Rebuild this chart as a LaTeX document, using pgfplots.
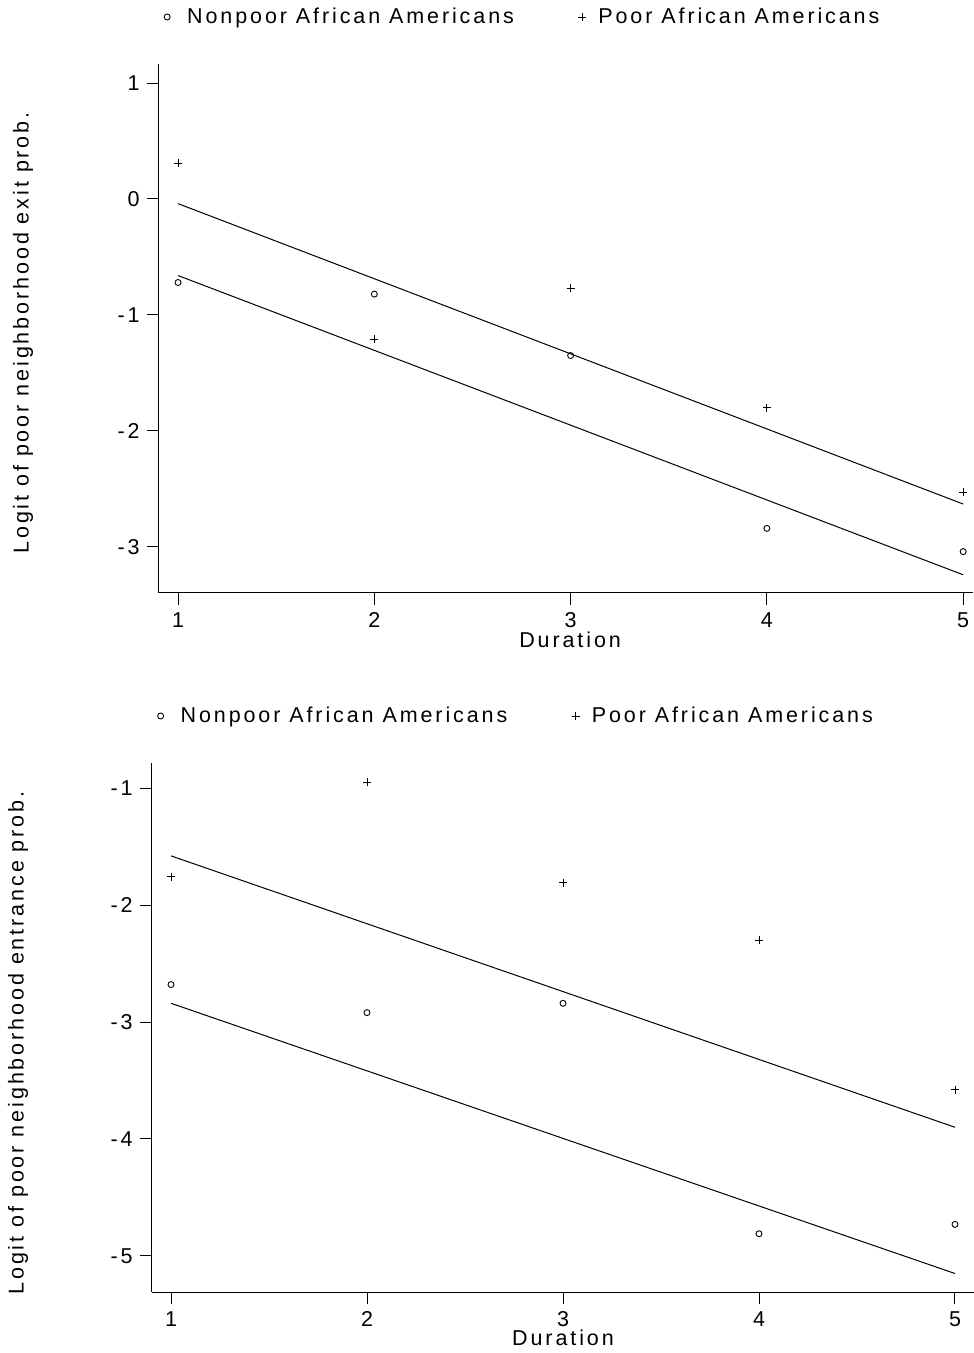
\documentclass[border=0pt]{standalone}
\usepackage{fontspec}
\setmainfont{Liberation Sans}[LetterSpace=13.5]
\usepackage{pgfplots}
\pgfplotsset{compat=1.18}
\newcommand{\fs}{\fontsize{21.5}{25}\selectfont}
\begin{document}
\fs
\begin{tikzpicture}[x=1pt,y=1pt]
\pgfplotsset{
  common/.style={
    scale only axis, height=529pt, clip=false,
    axis x line*=bottom, axis y line*=left,
    axis line style={-, line width=1pt, black},
    tick align=outside, major tick length=12pt,
    tick style={line width=1pt, black},
    xtick={1,2,3,4,5},
    /pgf/number format/assume math mode=true,
    tick label style={font=\fs},
    label style={font=\fs},
    xlabel={Duration},
    legend columns=2,
    legend style={draw=none, fill=none, inner sep=0pt, font=\fs, anchor=west,
      nodes={inner sep=0pt},
      /tikz/every odd column/.append style={column sep=11.5pt},
      /tikz/every even column/.append style={column sep=64pt}},
    omk/.style={only marks, mark=o, mark size=3pt, mark options={line width=0.9pt, black},
      legend image code/.code={\draw[####1] plot coordinates {(0pt,0pt)}; \path[draw=none,fill=none] (-3.5pt,0pt) rectangle (8.5pt,0.1pt);}},
    pmk/.style={only marks, mark=+, mark size=4pt, mark options={line width=0.9pt, black},
      legend image code/.code={\draw[####1] plot coordinates {(0pt,0pt)}; \path[draw=none,fill=none] (-4.5pt,0pt) rectangle (4.5pt,0.1pt);}},
    fitl/.style={black, line width=1pt, no marks, forget plot},
  }
}
% Top panel: exit
\begin{axis}[common, at={(159pt,760pt)}, anchor=south west, width=814pt,
  xmin=0.903, xmax=5.05, ymin=-3.397, ymax=1.164, ytick={-3,-2,-1,0,1},
  ylabel={Logit of poor neighborhood exit prob.},
  ylabel style={at={(axis description cs:-0.167,0.4915)}, anchor=center},
  xlabel style={at={(axis description cs:0.505,-0.0888)}, anchor=center},
  legend style={at={(axis description cs:0.0055,1.0888)}}]
\addplot[omk] coordinates {(1,-0.72) (2,-0.82) (3,-1.35) (4,-2.84) (5,-3.04)};
\addlegendentry{Nonpoor African Americans}
\addplot[pmk] coordinates {(1,0.31) (2,-1.21) (3,-0.77) (4,-1.80) (5,-2.53)};
\addlegendentry{Poor African Americans}
\addplot[fitl] coordinates {(1,-0.04) (5,-2.63)};
\addplot[fitl] coordinates {(1,-0.66) (5,-3.24)};
\end{axis}
% Bottom panel: entrance
\begin{axis}[common, at={(152pt,61pt)}, anchor=south west, width=822pt,
  xmin=0.903, xmax=5.097, ymin=-5.308, ymax=-0.786, ytick={-5,-4,-3,-2,-1},
  ylabel={Logit of poor neighborhood entrance prob.},
  ylabel style={at={(axis description cs:-0.163,0.4707)}, anchor=center},
  xlabel style={at={(axis description cs:0.5,-0.087)}, anchor=center},
  legend style={at={(axis description cs:0.006,1.0888)}}]
\addplot[omk] coordinates {(1,-2.68) (2,-2.92) (3,-2.84) (4,-4.81) (5,-4.73)};
\addlegendentry{Nonpoor African Americans}
\addplot[pmk] coordinates {(1,-1.76) (2,-0.95) (3,-1.81) (4,-2.30) (5,-3.58)};
\addlegendentry{Poor African Americans}
\addplot[fitl] coordinates {(1,-1.58) (5,-3.90)};
\addplot[fitl] coordinates {(1,-2.84) (5,-5.15)};
\end{axis}
\pgfresetboundingbox
\path[use as bounding box] (0,0) rectangle (974,1353);
\end{tikzpicture}
\end{document}
